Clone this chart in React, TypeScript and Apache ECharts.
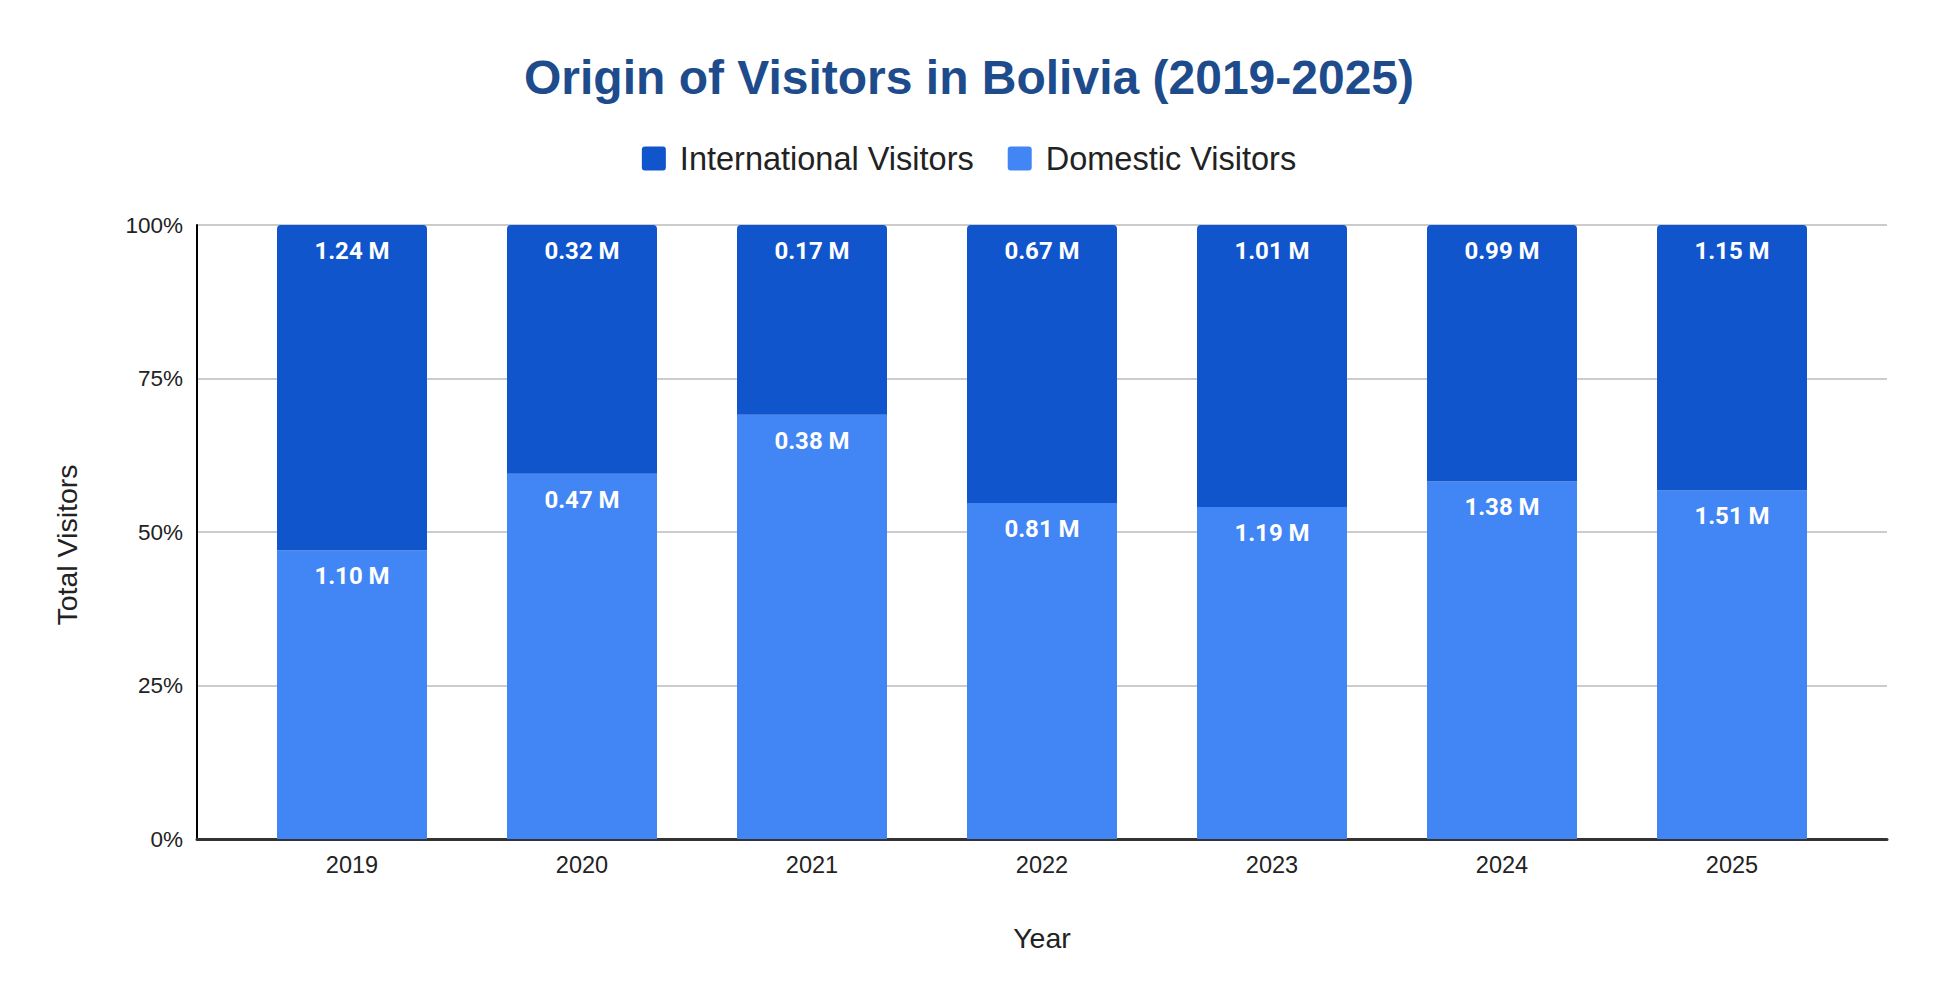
import React, { useEffect, useRef } from 'react';
import * as echarts from 'echarts';

const years = ['2019', '2020', '2021', '2022', '2023', '2024', '2025'];
const internationalVisitors = [1.24, 0.32, 0.17, 0.67, 1.01, 0.99, 1.15];
const domesticVisitors = [1.1, 0.47, 0.38, 0.81, 1.19, 1.38, 1.51];
const yTicks = [0, 25, 50, 75, 100];

const FONT = '"Liberation Sans", Arial, sans-serif';
const LEGEND_ICON = 'path://M3,0 H21 Q24,0 24,3 V21 Q24,24 21,24 H3 Q0,24 0,21 V3 Q0,0 3,0 Z';

const App: React.FC = () => {
  const chartRef = useRef<HTMLDivElement>(null);

  useEffect(() => {
    if (!chartRef.current) return;

    const chart = echarts.init(chartRef.current, null, { renderer: 'svg' });

    // percentage share of each year's total (100% stacked)
    const totals = years.map((_, i) => internationalVisitors[i] + domesticVisitors[i]);
    const domesticShare = domesticVisitors.map((v, i) => (v / totals[i]) * 100);
    const internationalShare = internationalVisitors.map((v, i) => (v / totals[i]) * 100);

    const barLabel = (source: number[]) => ({
      show: true,
      position: 'insideTop' as const,
      distance: 14,
      color: '#ffffff',
      fontFamily: 'Roboto, sans-serif',
      fontWeight: 'bold' as const,
      fontSize: 24,
      formatter: (p: any) => `${source[p.dataIndex].toFixed(2)} M`,
    });

    const option: echarts.EChartsOption = {
      animation: false,
      backgroundColor: '#ffffff',
      textStyle: { fontFamily: FONT },
      title: {
        text: 'Origin of Visitors in Bolivia (2019-2025)',
        left: 'center',
        top: 48,
        textStyle: {
          fontFamily: FONT,
          fontSize: 48,
          fontWeight: 'bold',
          color: '#1e4b8c',
          lineHeight: 48,
        },
      },
      legend: {
        top: 142,
        left: 'center',
        padding: 0,
        itemWidth: 24,
        itemHeight: 24,
        itemGap: 34,
        icon: LEGEND_ICON,
        data: ['International Visitors', 'Domestic Visitors'],
        textStyle: {
          fontFamily: FONT,
          fontSize: 32.5,
          color: '#222222',
          lineHeight: 33,
          padding: [0, 0, 0, 9],
        },
      },
      // outer grid: frame, gridlines and axis titles; inner grid: the bars
      grid: [
        { left: 197, right: 51, top: 225, bottom: 165 },
        { left: 237, right: 91, top: 225, bottom: 165 },
      ],
      xAxis: [
        {
          type: 'value',
          gridIndex: 0,
          min: 0,
          max: 1,
          name: 'Year',
          nameLocation: 'middle',
          nameGap: 84,
          nameTextStyle: {
            fontFamily: FONT,
            fontSize: 28.5,
            color: '#222222',
          },
          axisLine: { show: true, onZero: false, lineStyle: { color: '#333333', width: 3 } },
          axisTick: { show: false },
          axisLabel: { show: false },
          splitLine: { show: false },
        },
        {
          type: 'category',
          gridIndex: 1,
          data: years,
          axisLine: { show: false },
          axisTick: { show: false },
          splitLine: { show: false },
          axisLabel: {
            fontFamily: FONT,
            fontSize: 23.5,
            color: '#222222',
            margin: 14,
          },
        },
      ],
      yAxis: [
        {
          type: 'value',
          gridIndex: 0,
          min: yTicks[0],
          max: yTicks[yTicks.length - 1],
          interval: 25,
          name: 'Total Visitors',
          nameLocation: 'middle',
          nameGap: 116,
          nameTextStyle: {
            fontFamily: FONT,
            fontSize: 28.5,
            color: '#222222',
            padding: [0, 26, 0, 0],
          },
          axisLine: { show: true, onZero: false, lineStyle: { color: '#000000', width: 2 } },
          axisTick: { show: false },
          splitLine: { show: true, lineStyle: { color: '#cccccc', width: 2 } },
          axisLabel: {
            formatter: '{value}%',
            fontFamily: FONT,
            fontSize: 22.5,
            color: '#222222',
            margin: 14,
          },
        },
        {
          type: 'value',
          gridIndex: 1,
          min: yTicks[0],
          max: yTicks[yTicks.length - 1],
          show: false,
          splitLine: { show: false },
        },
      ],
      series: [
        {
          name: 'Domestic Visitors',
          type: 'bar',
          xAxisIndex: 1,
          yAxisIndex: 1,
          stack: 'total',
          barWidth: 150,
          itemStyle: { color: '#4285f4' },
          label: barLabel(domesticVisitors),
          data: domesticShare,
        },
        {
          name: 'International Visitors',
          type: 'bar',
          xAxisIndex: 1,
          yAxisIndex: 1,
          stack: 'total',
          barWidth: 150,
          itemStyle: { color: '#1155cc', borderRadius: [4, 4, 0, 0] },
          label: barLabel(internationalVisitors),
          data: internationalShare,
        },
      ],
    };

    chart.setOption(option);

    const handleResize = () => {
      chart.resize();
    };
    window.addEventListener('resize', handleResize);

    return () => {
      window.removeEventListener('resize', handleResize);
      chart.dispose();
    };
  }, []);

  return (
    <div
      ref={chartRef}
      style={{ position: 'fixed', left: 0, top: 0, width: '1938px', height: '1004px', background: '#ffffff' }}
    />
  );
};

export default App;
